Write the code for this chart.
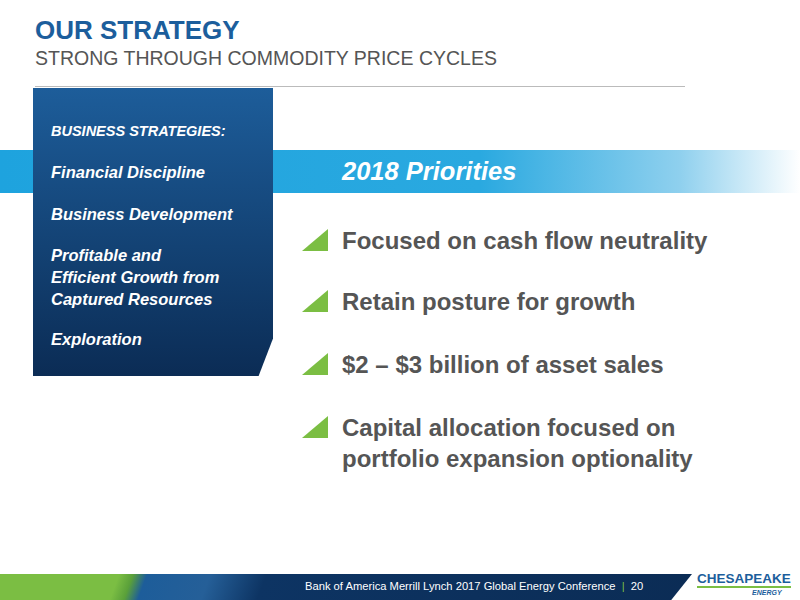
<!DOCTYPE html>
<html><head><meta charset="utf-8">
<script src="https://cdn.jsdelivr.net/npm/chart.js@4"></script>
<style>
body{margin:0;width:800px;height:600px;overflow:hidden;background:#fff;font-family:"Liberation Sans",Arial,sans-serif;position:relative}
.a{position:absolute;white-space:nowrap}
#title{left:35px;top:15px;font-size:26px;font-weight:bold;color:#1c5e9c}
#sub{left:35px;top:47px;font-size:19.5px;color:#555}
#rule{left:35px;top:86px;width:650px;height:1px;background:#bbb}
#band{left:0;top:150px;width:800px;height:43px;background:linear-gradient(90deg,#1ea3de 0%,#2aa9e0 60%,#8fd0ee 85%,#fff 100%)}
#box{left:33px;top:88px;width:240px;height:288px;background:linear-gradient(180deg,#1d5d9a,#0b2c55);clip-path:polygon(0 0,100% 0,100% 87%,94% 100%,0 100%)}
.bs{left:51px;color:#fff;font-style:italic;font-weight:bold;font-size:16.5px;line-height:22px}
#pri{left:342px;top:157px;color:#fff;font-style:italic;font-weight:bold;font-size:25.5px}
.tri{left:302px;width:26px;height:22px;background:#7bbe43;clip-path:polygon(100% 0,100% 100%,0 100%)}
.bt{left:342px;color:#555;font-weight:bold;font-size:24px;line-height:31px}
#foot{left:0;top:574px;width:692px;height:26px;clip-path:polygon(0 0,100% 0,97% 100%,0 100%);background:linear-gradient(110deg,#7bbe43 0%,#7bbe43 17%,#5aa03a 19%,#1d5d9a 21%,#255f98 30%,#0d3463 38%,#0b2c55 100%)}
#ft{left:305px;top:580px;font-size:11.2px;color:#fff}
</style></head><body>
<div id="title" class="a">OUR STRATEGY</div>
<div id="sub" class="a">STRONG THROUGH COMMODITY PRICE CYCLES</div>
<div id="rule" class="a"></div>
<div id="band" class="a"></div>
<div id="box" class="a"></div>
<div class="a bs" style="top:120px;font-size:14.5px">BUSINESS STRATEGIES:</div>
<div class="a bs" style="top:161px">Financial Discipline</div>
<div class="a bs" style="top:203px">Business Development</div>
<div class="a bs" style="top:244px">Profitable and<br>Efficient Growth from<br>Captured Resources</div>
<div class="a bs" style="top:328px">Exploration</div>
<div id="pri" class="a">2018 Priorities</div>
<div class="a tri" style="top:229px"></div>
<div class="a bt" style="top:225px">Focused on cash flow neutrality</div>
<div class="a tri" style="top:290px"></div>
<div class="a bt" style="top:286px">Retain posture for growth</div>
<div class="a tri" style="top:353px"></div>
<div class="a bt" style="top:349px">$2 – $3 billion of asset sales</div>
<div class="a tri" style="top:416px"></div>
<div class="a bt" style="top:412px">Capital allocation focused on<br>portfolio expansion optionality</div>
<div id="foot" class="a"></div>
<div id="ft" class="a">Bank of America Merrill Lynch 2017 Global Energy Conference&nbsp;&nbsp;<span style="color:#7bbe43">|</span>&nbsp;&nbsp;20</div>
<div class="a" style="left:697px;top:571px;font-size:13.5px;font-weight:bold;color:#1c5e9c;border-bottom:2px solid #7bbe43;line-height:15px">CHESAPEAKE</div>
<div class="a" style="left:752px;top:589px;font-size:7px;font-weight:bold;font-style:italic;color:#1c5e9c">ENERGY</div>
</body></html>
